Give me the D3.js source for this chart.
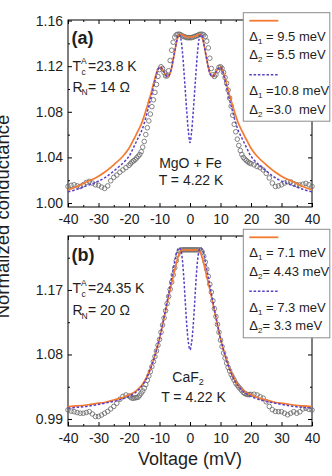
<!DOCTYPE html>
<html>
<head>
<meta charset="utf-8">
<script src="https://cdn.jsdelivr.net/npm/d3@7"></script>
<style>
body { margin: 0; background: #fff; }
svg { display: block; font-family: "Liberation Sans", Arial, Helvetica, sans-serif; }
text { white-space: pre; }
</style>
</head>
<body>
<div id="chart_area"></div>
<script>
// measured points (open circles), same voltages for both panels
var dataVolt = [-40,-39,-38,-37,-36,-35,-34,-33,-32,-31,-30,-29,-28,-27,-26,-25,-24,-23,-22,-21,
    -20,-19.5,-19,-18.5,-18,-17.5,-17,-16.5,-16,-15.5,-15,-14.5,-14,-13.5,-13,-12.5,-12,-11.5,-11,-10.5,
    -10,-9.5,-9,-8.5,-8,-7.5,-7,-6.5,-6,-5.5,-5,-4.5,-4,-3.5,-3,-2.5,-2,-1.5,-1,-0.5,
    0,
    0.5,1,1.5,2,2.5,3,3.5,4,4.5,5,5.5,6,6.5,7,7.5,8,8.5,9,9.5,10,
    10.5,11,11.5,12,12.5,13,13.5,14,14.5,15,15.5,16,16.5,17,17.5,18,18.5,19,19.5,20,
    21,22,23,24,25,26,27,28,29,30,31,32,33,34,35,36,37,38,39,40];

var dataA = [1.0145,1.0155,1.016,1.015,1.0145,1.016,1.018,1.019,1.0175,1.016,1.0155,1.014,1.0128,1.015,1.0195,1.0225,1.0245,1.027,1.029,1.031,
    1.033,1.0345,1.036,1.037,1.038,1.0395,1.041,1.0425,1.045,1.049,1.054,1.060,1.066,1.072,1.078,1.0845,1.0905,1.097,1.104,1.111,
    1.117,1.1195,1.118,1.1145,1.1115,1.1115,1.116,1.125,1.134,1.141,1.1455,1.1475,1.148,1.148,1.1475,1.1465,1.146,1.1455,1.145,1.145,
    1.145,
    1.145,1.1455,1.146,1.1465,1.147,1.1478,1.148,1.148,1.1475,1.146,1.142,1.136,1.127,1.118,1.1125,1.111,1.1125,1.116,1.119,1.1195,
    1.118,1.1145,1.110,1.105,1.099,1.092,1.085,1.077,1.069,1.0625,1.056,1.0505,1.046,1.0425,1.040,1.0385,1.0372,1.036,1.0352,1.0345,
    1.0335,1.032,1.031,1.029,1.026,1.022,1.0175,1.0145,1.015,1.016,1.0175,1.0187,1.0185,1.017,1.016,1.0158,1.0165,1.0172,1.016,1.0145];

var dataB = [1.0026,1.001,1.0002,0.999,0.998,0.998,0.999,1.0002,0.997,0.9935,0.9935,0.9955,0.998,1.0005,1.004,1.0075,1.012,1.0175,1.0215,1.0235,
    1.022,1.0205,1.019,1.019,1.0195,1.020,1.0205,1.023,1.026,1.029,1.033,1.038,1.044,1.050,1.056,1.063,1.070,1.077,1.085,1.093,
    1.101,1.111,1.121,1.131,1.141,1.151,1.161,1.171,1.181,1.191,1.201,1.211,1.2195,1.224,1.2255,1.226,1.226,1.226,1.226,1.226,
    1.226,
    1.226,1.226,1.226,1.226,1.226,1.226,1.2255,1.223,1.217,1.209,1.199,1.189,1.178,1.167,1.155,1.144,1.133,1.122,1.111,1.100,
    1.091,1.082,1.075,1.068,1.062,1.057,1.052,1.048,1.044,1.040,1.037,1.0345,1.032,1.0295,1.027,1.0255,1.0245,1.024,1.024,1.0243,
    1.0245,1.0235,1.021,1.019,1.014,1.0075,1.003,1.0005,1.0002,1.0002,0.998,0.9958,0.998,1.0002,0.998,1.000,1.004,1.005,1.0035,1.0026];

// BTK fits
var fitVolt = [-40,-37,-34,-31,-28,-25,-22,-20,-19,-18,-17,-16,-15,-14,-13.5,-13,-12.5,-12,-11.5,-11,-10.5,
    -10,-9.5,-9,-8.5,-8,-7.5,-7,-6.5,-6,-5.5,-5,-4.5,-4,-3.5,-3,-2.5,-2,-1.5,-1,-0.5,
    0,
    0.5,1,1.5,2,2.5,3,3.5,4,4.5,5,5.5,6,6.5,7,7.5,8,8.5,9,9.5,10,
    10.5,11,11.5,12,12.5,13,13.5,14,15,16,17,18,19,20,22,25,28,31,34,37,40];

var fitOrangeA = [1.0115,1.0145,1.0185,1.022,1.027,1.0335,1.041,1.048,1.053,1.058,1.0635,1.069,1.0765,1.085,1.090,1.094,1.099,1.1045,1.1095,1.114,1.1175,
    1.119,1.1188,1.117,1.1148,1.1125,1.111,1.1115,1.114,1.119,1.126,1.133,1.140,1.145,1.1475,1.148,1.1475,1.1468,1.1462,1.1458,1.1456,
    1.1455,
    1.1456,1.1458,1.1462,1.1468,1.1475,1.148,1.1475,1.145,1.140,1.133,1.126,1.119,1.114,1.1115,1.111,1.1125,1.1148,1.117,1.1188,1.119,
    1.1175,1.114,1.1095,1.1045,1.099,1.094,1.090,1.085,1.0765,1.069,1.0635,1.058,1.053,1.048,1.041,1.0335,1.027,1.022,1.0185,1.0145,1.0115];

var fitPurpleA = [1.0098,1.012,1.015,1.018,1.022,1.028,1.035,1.041,1.046,1.0515,1.057,1.0625,1.070,1.080,1.085,1.090,1.0955,1.1015,1.107,1.1125,1.117,
    1.119,1.1188,1.117,1.1148,1.1125,1.111,1.1115,1.114,1.119,1.126,1.133,1.140,1.146,1.1478,1.144,1.133,1.116,1.097,1.078,1.062,
    1.053,
    1.062,1.078,1.097,1.116,1.133,1.144,1.1478,1.146,1.140,1.133,1.126,1.119,1.114,1.1115,1.111,1.1125,1.1148,1.117,1.1188,1.119,
    1.117,1.1125,1.107,1.1015,1.0955,1.090,1.085,1.080,1.070,1.0625,1.057,1.0515,1.046,1.041,1.035,1.028,1.022,1.018,1.015,1.012,1.0098];

var fitOrangeB = [1.0072,1.0082,1.0095,1.0115,1.013,1.0165,1.020,1.0235,1.0255,1.028,1.0315,1.036,1.042,1.050,1.055,1.060,1.066,1.072,1.079,1.086,1.094,
    1.102,1.1115,1.121,1.131,1.141,1.151,1.161,1.1705,1.180,1.189,1.198,1.207,1.215,1.221,1.2245,1.2258,1.226,1.2259,1.2258,1.2256,
    1.2255,
    1.2256,1.2258,1.2259,1.226,1.2258,1.2245,1.221,1.215,1.207,1.198,1.189,1.180,1.1705,1.161,1.151,1.141,1.131,1.121,1.1115,1.102,
    1.094,1.086,1.079,1.072,1.066,1.060,1.055,1.050,1.042,1.036,1.0315,1.028,1.0255,1.0235,1.020,1.0165,1.013,1.0115,1.0095,1.0082,1.0072];

var fitPurpleB = [1.0052,1.0062,1.0075,1.0095,1.012,1.0145,1.018,1.0215,1.0238,1.0265,1.030,1.035,1.041,1.049,1.054,1.059,1.065,1.0715,1.0785,1.086,1.094,
    1.102,1.112,1.122,1.1325,1.143,1.154,1.165,1.1765,1.188,1.199,1.210,1.220,1.2265,1.229,1.2255,1.212,1.185,1.150,1.118,1.096,
    1.0863,
    1.096,1.118,1.150,1.185,1.212,1.2255,1.229,1.2265,1.220,1.210,1.199,1.188,1.1765,1.165,1.154,1.143,1.1325,1.122,1.112,1.102,
    1.094,1.086,1.0785,1.0715,1.065,1.059,1.054,1.049,1.041,1.035,1.030,1.0265,1.0238,1.0215,1.018,1.0145,1.012,1.0095,1.0075,1.0062,1.0052];

// ticks
var xTicks = [-40,-30,-20,-10,0,10,20,30,40];
var xMinor = [-35,-25,-15,-5,5,15,25,35];
var yTicksA = [1.00,1.04,1.08,1.12,1.16];
var yMinorA = [1.02,1.06,1.10,1.14];
var yTicksB = [0.99,1.08,1.17];
var yMinorB = [1.035,1.125,1.215];

// legend texts
var legendSubA = ["1","2","1","2"];
var legendTextA = [" = 9.5 meV"," = 5.5 meV"," =10.8 meV"," =3.0  meV"];
var legendSubB = ["1","2","1","2"];
var legendTextB = [" = 7.1 meV","= 4.43 meV"," = 7.3 meV","= 3.3 meV"];

var orange = "#f47a30", purple = "#5a3fc4", ink = "#1e1e1e";

var svg = d3.select("#chart_area")
    .append("svg")
        .attr("width", 332)
        .attr("height", 476);

//x scale (shared)
var x = d3.scaleLinear()
    .domain([-40, 40])
    .range([68, 312]);

var panels = [
    {top: 20, bottom: 207, domain: [0.9965, 1.1605], yTicks: yTicksA, yMinor: yMinorA,
     data: dataA, orange: fitOrangeA, purple: fitPurpleA,
     label: "(a)", tc: "=23.8 K", rn: "= 14 \u03A9", mat: "MgO + Fe", matSub: "",
     labelY: 44, tcY: 70.5, rnY: 91.5, matY: 168, tempY: 185, matX: 190.5, tempX: 191,
     legTop: 12.7, legSub: legendSubA, legText: legendTextA},
    {top: 236, bottom: 426, domain: [0.9802, 1.2453], yTicks: yTicksB, yMinor: yMinorB,
     data: dataB, orange: fitOrangeB, purple: fitPurpleB,
     label: "(b)", tc: "=24.35 K", rn: "= 20 \u03A9", mat: "CaF", matSub: "2",
     labelY: 261, tcY: 293, rnY: 315, matY: 381.7, tempY: 401.7, matX: 188, tempX: 193.5,
     legTop: 229.3, legSub: legendSubB, legText: legendTextB}
];

panels.forEach(function(p){

    //y scale
    var y = d3.scaleLinear()
        .domain(p.domain)
        .range([p.bottom, p.top]);

    var g = svg.append("g");

    //x axis bottom with labels
    g.append("g")
        .attr("transform", "translate(0," + p.bottom + ")")
        .call(d3.axisBottom(x).tickValues(xTicks).tickSize(-4).tickPadding(7)
            .tickFormat(function(d){ return String(d); }))
        .call(function(a){ a.select(".domain").remove(); })
        .attr("font-size", 14).attr("font-family", null);
    g.append("g")
        .attr("transform", "translate(0," + p.bottom + ")")
        .call(d3.axisBottom(x).tickValues(xMinor).tickSize(-2).tickFormat(""))
        .call(function(a){ a.select(".domain").remove(); });

    //x axis top (ticks only)
    g.append("g")
        .attr("transform", "translate(0," + p.top + ")")
        .call(d3.axisTop(x).tickValues(xTicks).tickSize(-4).tickFormat(""))
        .call(function(a){ a.select(".domain").remove(); });
    g.append("g")
        .attr("transform", "translate(0," + p.top + ")")
        .call(d3.axisTop(x).tickValues(xMinor).tickSize(-2).tickFormat(""))
        .call(function(a){ a.select(".domain").remove(); });

    //y axis left with labels
    g.append("g")
        .attr("transform", "translate(68,0)")
        .call(d3.axisLeft(y).tickValues(p.yTicks).tickSize(-4).tickPadding(5)
            .tickFormat(d3.format(".2f")))
        .call(function(a){ a.select(".domain").remove(); })
        .attr("font-size", 14).attr("font-family", null);
    g.append("g")
        .attr("transform", "translate(68,0)")
        .call(d3.axisLeft(y).tickValues(p.yMinor).tickSize(-2).tickFormat(""))
        .call(function(a){ a.select(".domain").remove(); });

    //y axis right (ticks only)
    g.append("g")
        .attr("transform", "translate(312,0)")
        .call(d3.axisRight(y).tickValues(p.yTicks).tickSize(-4).tickFormat(""))
        .call(function(a){ a.select(".domain").remove(); });
    g.append("g")
        .attr("transform", "translate(312,0)")
        .call(d3.axisRight(y).tickValues(p.yMinor).tickSize(-2).tickFormat(""))
        .call(function(a){ a.select(".domain").remove(); });

    g.selectAll(".tick text").attr("fill", ink);

    //frame
    g.append("rect")
        .attr("x", 68).attr("y", p.top)
        .attr("width", 312 - 68).attr("height", p.bottom - p.top)
        .attr("fill", "none").attr("stroke", "#000").attr("stroke-width", 1);

    //data circles
    g.selectAll("circle.pt")
        .data(p.data)
        .enter().append("circle")
            .attr("class", "pt")
            .attr("cx", function(d, i){ return x(dataVolt[i]); })
            .attr("cy", function(d){ return y(d); })
            .attr("r", 2.3)
            .attr("fill", "none")
            .attr("stroke", "#666")
            .attr("stroke-width", 0.8);

    var line = d3.line()
        .x(function(d, i){ return x(fitVolt[i]); })
        .y(function(d){ return y(d); })
        .curve(d3.curveCatmullRom);

    g.append("path")
        .attr("d", line(p.orange))
        .attr("fill", "none").attr("stroke", orange).attr("stroke-width", 1.7);

    g.append("path")
        .attr("d", line(p.purple))
        .attr("fill", "none").attr("stroke", purple).attr("stroke-width", 1.5)
        .attr("stroke-dasharray", "2.5,1.8");

    //annotations
    g.append("text").attr("x", 71.5).attr("y", p.labelY)
        .attr("font-size", 18).attr("font-weight", "bold").attr("fill", ink).text(p.label);

    g.append("text").attr("x", 72.5).attr("y", p.tcY).attr("font-size", 14).attr("fill", ink).text("T");
    g.append("text").attr("x", 81).attr("y", p.tcY - 7).attr("font-size", 8.5).attr("fill", ink).text("A");
    g.append("text").attr("x", 81.5).attr("y", p.tcY + 4).attr("font-size", 8.5).attr("fill", ink).text("c");
    g.append("text").attr("x", 88).attr("y", p.tcY).attr("font-size", 14).attr("fill", ink).text(p.tc);

    g.append("text").attr("x", 72.5).attr("y", p.rnY).attr("font-size", 14).attr("fill", ink).text("R");
    g.append("text").attr("x", 81.5).attr("y", p.rnY + 3.5).attr("font-size", 8.5).attr("fill", ink).text("N");
    g.append("text").attr("x", 88).attr("y", p.rnY).attr("font-size", 14).attr("fill", ink).text(p.rn);

    var mat = g.append("text").attr("x", p.matX).attr("y", p.matY)
        .attr("font-size", 14).attr("text-anchor", "middle").attr("fill", ink);
    mat.append("tspan").text(p.mat);
    if (p.matSub) {
        mat.append("tspan").attr("font-size", 9).attr("dy", 3.5).text(p.matSub);
    }
    g.append("text").attr("x", p.tempX).attr("y", p.tempY)
        .attr("font-size", 14).attr("text-anchor", "middle").attr("fill", ink)
        .text("T = 4.22 K");

    //legend
    var leg = svg.append("g").attr("transform", "translate(243.3," + p.legTop + ")");
    leg.append("rect")
        .attr("width", 86.5).attr("height", 108.5)
        .attr("fill", "#fff").attr("stroke", "#8c8c8c").attr("stroke-width", 1);
    leg.append("line").attr("x1", 6).attr("x2", 35).attr("y1", 8).attr("y2", 8)
        .attr("stroke", orange).attr("stroke-width", 1.8);
    leg.append("line").attr("x1", 6).attr("x2", 35).attr("y1", 62).attr("y2", 62)
        .attr("stroke", purple).attr("stroke-width", 1.5).attr("stroke-dasharray", "2.5,1.8");
    var rowY = [28, 46.5, 82.5, 101];
    p.legText.forEach(function(t, i){
        var tx = leg.append("text").attr("x", 6).attr("y", rowY[i])
            .attr("font-size", 13).attr("fill", ink);
        tx.append("tspan").text("\u0394");
        tx.append("tspan").attr("font-size", 8).attr("dy", 3).text(p.legSub[i]);
        tx.append("tspan").attr("dy", -3).text(t);
    });
});

//x label
svg.append("text")
    .attr("x", 190)
    .attr("y", 465)
    .attr("font-size", 18)
    .attr("text-anchor", "middle")
    .attr("fill", ink)
    .text("Voltage (mV)");

//y label (partly past the left edge, as in the original)
svg.append("text")
    .attr("transform", "translate(8.5,216.5) rotate(-90)")
    .attr("font-size", 18.5)
    .attr("text-anchor", "middle")
    .attr("fill", ink)
    .text("Normalized conductance");
</script>
</body>
</html>
